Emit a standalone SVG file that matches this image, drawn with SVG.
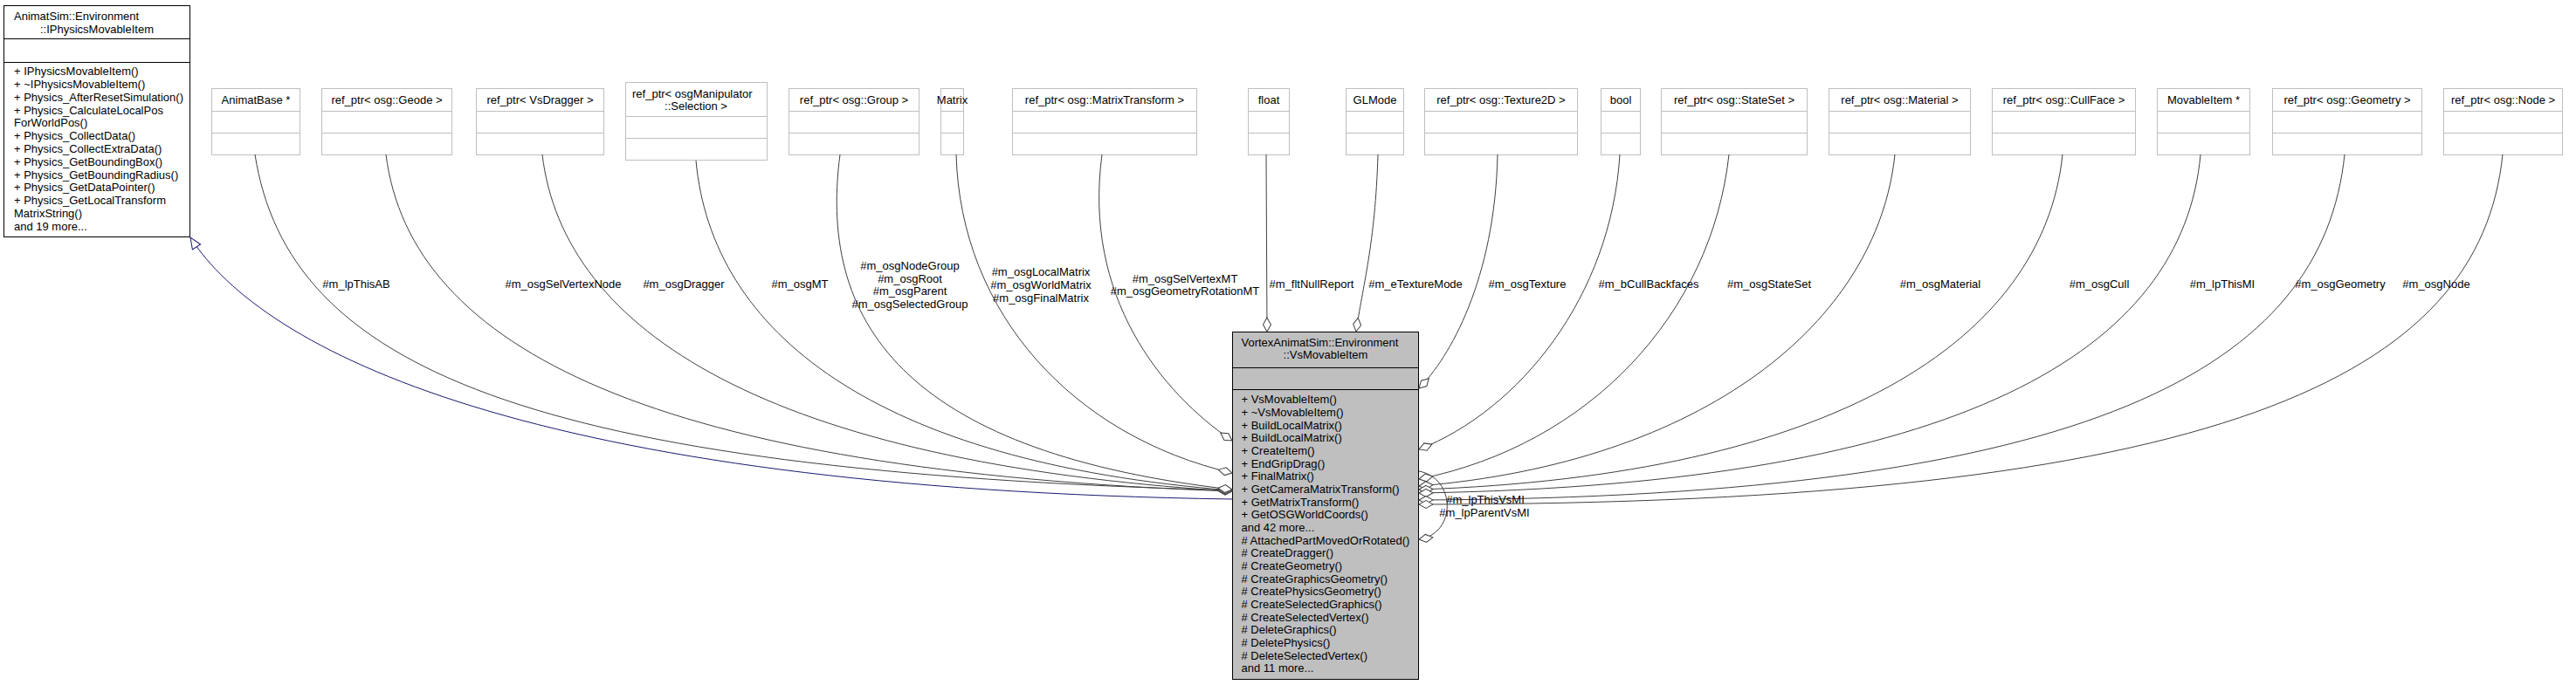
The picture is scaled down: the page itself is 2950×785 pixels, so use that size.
<svg xmlns="http://www.w3.org/2000/svg" width="2950" height="785" viewBox="0 0 2950 785">
<defs>
<style>
text{font-family:"Liberation Sans",Arial,sans-serif;font-size:13px;fill:#000}
.c{text-anchor:middle}
.box{fill:#fff;stroke:#bfbfbf;stroke-width:1}
.base{fill:#fff;stroke:#000;stroke-width:1}
.main{fill:#bfbfbf;stroke:#000;stroke-width:1}
.dv{stroke:#bfbfbf;stroke-width:1}
.dk{stroke:#000;stroke-width:1}
.e{fill:none;stroke:#404040;stroke-width:1;marker-end:url(#dia)}
.inh{fill:none;stroke:#191970;stroke-width:1;marker-end:url(#tri)}
</style>
<marker id="dia" viewBox="-1 -6 18 12" refX="16" refY="0" markerWidth="18" markerHeight="12" orient="auto" markerUnits="userSpaceOnUse"><path d="M0,0 L8,-4.5 L16,0 L8,4.5 Z" fill="#fff" stroke="#404040" stroke-width="1"/></marker>
<marker id="tri" viewBox="-1 -7 15 14" refX="13" refY="0" markerWidth="15" markerHeight="14" orient="auto" markerUnits="userSpaceOnUse"><path d="M0,-5.5 L13,0 L0,5.5 Z" fill="#fff" stroke="#191970" stroke-width="1"/></marker>
</defs>
<rect width="2950" height="785" fill="#fff"/>

<g id="IPhysicsMovableItem">
<rect class="base" x="4.5" y="6.5" width="213" height="265"/>
<line class="dk" x1="4.5" y1="44.5" x2="217.5" y2="44.5"/>
<line class="dk" x1="4.5" y1="71.5" x2="217.5" y2="71.5"/>
<text x="16" y="22.8">AnimatSim::Environment</text>
<text class="c" x="111" y="37.8">::IPhysicsMovableItem</text>
<text x="16" y="86.2">+ IPhysicsMovableItem()</text>
<text x="16" y="101">+ ~IPhysicsMovableItem()</text>
<text x="16" y="115.8">+ Physics_AfterResetSimulation()</text>
<text x="16" y="130.6">+ Physics_CalculateLocalPos</text>
<text x="16" y="145.4">ForWorldPos()</text>
<text x="16" y="160.2">+ Physics_CollectData()</text>
<text x="16" y="175">+ Physics_CollectExtraData()</text>
<text x="16" y="189.8">+ Physics_GetBoundingBox()</text>
<text x="16" y="204.6">+ Physics_GetBoundingRadius()</text>
<text x="16" y="219.4">+ Physics_GetDataPointer()</text>
<text x="16" y="234.2">+ Physics_GetLocalTransform</text>
<text x="16" y="249">MatrixString()</text>
<text x="16" y="263.8">and 19 more...</text>
</g>

<g id="AnimatBase">
<rect class="box" x="242.5" y="101.5" width="101" height="76"/>
<line class="dv" x1="242.5" y1="127.5" x2="343.5" y2="127.5"/><line class="dv" x1="242.5" y1="152.5" x2="343.5" y2="152.5"/>
<text class="c" x="293" y="118.5">AnimatBase *</text>
</g>
<g id="Geode">
<rect class="box" x="368.5" y="101.5" width="149" height="76"/>
<line class="dv" x1="368.5" y1="127.5" x2="517.5" y2="127.5"/><line class="dv" x1="368.5" y1="152.5" x2="517.5" y2="152.5"/>
<text class="c" x="443" y="118.5">ref_ptr&lt; osg::Geode &gt;</text>
</g>
<g id="VsDragger">
<rect class="box" x="545.5" y="101.5" width="146" height="76"/>
<line class="dv" x1="545.5" y1="127.5" x2="691.5" y2="127.5"/><line class="dv" x1="545.5" y1="152.5" x2="691.5" y2="152.5"/>
<text class="c" x="618.5" y="118.5">ref_ptr&lt; VsDragger &gt;</text>
</g>
<g id="Selection">
<rect class="box" x="716.5" y="94.5" width="162" height="89"/>
<line class="dv" x1="716.5" y1="133.5" x2="878.5" y2="133.5"/><line class="dv" x1="716.5" y1="158.5" x2="878.5" y2="158.5"/>
<text x="724" y="111.5">ref_ptr&lt; osgManipulator</text>
<text class="c" x="797" y="126">::Selection &gt;</text>
</g>
<g id="Group">
<rect class="box" x="903.5" y="101.5" width="149" height="76"/>
<line class="dv" x1="903.5" y1="127.5" x2="1052.5" y2="127.5"/><line class="dv" x1="903.5" y1="152.5" x2="1052.5" y2="152.5"/>
<text class="c" x="978" y="118.5">ref_ptr&lt; osg::Group &gt;</text>
</g>
<g id="Matrix">
<rect class="box" x="1077.5" y="101.5" width="26" height="76"/>
<line class="dv" x1="1077.5" y1="127.5" x2="1103.5" y2="127.5"/><line class="dv" x1="1077.5" y1="152.5" x2="1103.5" y2="152.5"/>
<text class="c" x="1090.5" y="118.5">Matrix</text>
</g>
<g id="MatrixTransform">
<rect class="box" x="1159.5" y="101.5" width="211" height="76"/>
<line class="dv" x1="1159.5" y1="127.5" x2="1370.5" y2="127.5"/><line class="dv" x1="1159.5" y1="152.5" x2="1370.5" y2="152.5"/>
<text class="c" x="1265" y="118.5">ref_ptr&lt; osg::MatrixTransform &gt;</text>
</g>
<g id="float">
<rect class="box" x="1429.5" y="101.5" width="47" height="76"/>
<line class="dv" x1="1429.5" y1="127.5" x2="1476.5" y2="127.5"/><line class="dv" x1="1429.5" y1="152.5" x2="1476.5" y2="152.5"/>
<text class="c" x="1453" y="118.5">float</text>
</g>
<g id="GLMode">
<rect class="box" x="1541.5" y="101.5" width="66" height="76"/>
<line class="dv" x1="1541.5" y1="127.5" x2="1607.5" y2="127.5"/><line class="dv" x1="1541.5" y1="152.5" x2="1607.5" y2="152.5"/>
<text class="c" x="1574.5" y="118.5">GLMode</text>
</g>
<g id="Texture2D">
<rect class="box" x="1631.5" y="101.5" width="175" height="76"/>
<line class="dv" x1="1631.5" y1="127.5" x2="1806.5" y2="127.5"/><line class="dv" x1="1631.5" y1="152.5" x2="1806.5" y2="152.5"/>
<text class="c" x="1719" y="118.5">ref_ptr&lt; osg::Texture2D &gt;</text>
</g>
<g id="bool">
<rect class="box" x="1833.5" y="101.5" width="45" height="76"/>
<line class="dv" x1="1833.5" y1="127.5" x2="1878.5" y2="127.5"/><line class="dv" x1="1833.5" y1="152.5" x2="1878.5" y2="152.5"/>
<text class="c" x="1856" y="118.5">bool</text>
</g>
<g id="StateSet">
<rect class="box" x="1902.5" y="101.5" width="167" height="76"/>
<line class="dv" x1="1902.5" y1="127.5" x2="2069.5" y2="127.5"/><line class="dv" x1="1902.5" y1="152.5" x2="2069.5" y2="152.5"/>
<text class="c" x="1986" y="118.5">ref_ptr&lt; osg::StateSet &gt;</text>
</g>
<g id="Material">
<rect class="box" x="2094.5" y="101.5" width="162" height="76"/>
<line class="dv" x1="2094.5" y1="127.5" x2="2256.5" y2="127.5"/><line class="dv" x1="2094.5" y1="152.5" x2="2256.5" y2="152.5"/>
<text class="c" x="2175.5" y="118.5">ref_ptr&lt; osg::Material &gt;</text>
</g>
<g id="CullFace">
<rect class="box" x="2281.5" y="101.5" width="164" height="76"/>
<line class="dv" x1="2281.5" y1="127.5" x2="2445.5" y2="127.5"/><line class="dv" x1="2281.5" y1="152.5" x2="2445.5" y2="152.5"/>
<text class="c" x="2363.5" y="118.5">ref_ptr&lt; osg::CullFace &gt;</text>
</g>
<g id="MovableItem">
<rect class="box" x="2470.5" y="101.5" width="106" height="76"/>
<line class="dv" x1="2470.5" y1="127.5" x2="2576.5" y2="127.5"/><line class="dv" x1="2470.5" y1="152.5" x2="2576.5" y2="152.5"/>
<text class="c" x="2523.5" y="118.5">MovableItem *</text>
</g>
<g id="Geometry">
<rect class="box" x="2602.5" y="101.5" width="171" height="76"/>
<line class="dv" x1="2602.5" y1="127.5" x2="2773.5" y2="127.5"/><line class="dv" x1="2602.5" y1="152.5" x2="2773.5" y2="152.5"/>
<text class="c" x="2688" y="118.5">ref_ptr&lt; osg::Geometry &gt;</text>
</g>
<g id="Node">
<rect class="box" x="2798.5" y="101.5" width="136" height="76"/>
<line class="dv" x1="2798.5" y1="127.5" x2="2934.5" y2="127.5"/><line class="dv" x1="2798.5" y1="152.5" x2="2934.5" y2="152.5"/>
<text class="c" x="2866.5" y="118.5">ref_ptr&lt; osg::Node &gt;</text>
</g>

<g id="VsMovableItem">
<rect class="main" x="1411.5" y="380.5" width="213" height="398"/>
<line class="dk" x1="1411.5" y1="421.5" x2="1624.5" y2="421.5"/>
<line class="dk" x1="1411.5" y1="446.5" x2="1624.5" y2="446.5"/>
<text x="1421.5" y="396.5">VortexAnimatSim::Environment</text>
<text class="c" x="1518" y="411">::VsMovableItem</text>
<text x="1421.5" y="462.2">+ VsMovableItem()</text>
<text x="1421.5" y="476.9">+ ~VsMovableItem()</text>
<text x="1421.5" y="491.5">+ BuildLocalMatrix()</text>
<text x="1421.5" y="506.2">+ BuildLocalMatrix()</text>
<text x="1421.5" y="520.9">+ CreateItem()</text>
<text x="1421.5" y="535.6">+ EndGripDrag()</text>
<text x="1421.5" y="550.2">+ FinalMatrix()</text>
<text x="1421.5" y="564.9">+ GetCameraMatrixTransform()</text>
<text x="1421.5" y="579.6">+ GetMatrixTransform()</text>
<text x="1421.5" y="594.2">+ GetOSGWorldCoords()</text>
<text x="1421.5" y="608.9">and 42 more...</text>
<text x="1421.5" y="623.6">#  AttachedPartMovedOrRotated()</text>
<text x="1421.5" y="638.2">#  CreateDragger()</text>
<text x="1421.5" y="652.9">#  CreateGeometry()</text>
<text x="1421.5" y="667.6">#  CreateGraphicsGeometry()</text>
<text x="1421.5" y="682.3">#  CreatePhysicsGeometry()</text>
<text x="1421.5" y="696.9">#  CreateSelectedGraphics()</text>
<text x="1421.5" y="711.6">#  CreateSelectedVertex()</text>
<text x="1421.5" y="726.3">#  DeleteGraphics()</text>
<text x="1421.5" y="740.9">#  DeletePhysics()</text>
<text x="1421.5" y="755.6">#  DeleteSelectedVertex()</text>
<text x="1421.5" y="770.3">and 11 more...</text>
</g>

<g id="connectors">
<path class="inh" d="M1411,572 C600,560 300,400 218,272"/>
<path class="e" d="M292,177 C330,420 600,540 1411,562"/>
<path class="e" d="M442,177 C470,400 750,540 1411,563"/>
<path class="e" d="M621,177 C645,380 880,530 1411,563"/>
<path class="e" d="M797,184 C815,380 1000,530 1411,562"/>
<path class="e" d="M962,177 C935,380 1050,520 1411,561"/>
<path class="e" d="M1095,177 C1100,360 1230,500 1411,542"/>
<path class="e" d="M1262,177 C1240,340 1330,450 1411,505"/>
<path class="e" d="M1450,177 L1451,380"/>
<path class="e" d="M1578,177 C1575,280 1560,330 1553,380"/>
<path class="e" d="M1715,177 C1712,320 1660,410 1625,445"/>
<path class="e" d="M1855,177 C1845,340 1740,470 1625,515"/>
<path class="e" d="M1980,177 C1960,360 1820,510 1625,549"/>
<path class="e" d="M2170,177 C2150,370 1950,530 1625,557"/>
<path class="e" d="M2362,177 C2340,390 2100,545 1625,561"/>
<path class="e" d="M2520,177 C2500,400 2250,555 1625,565"/>
<path class="e" d="M2685,177 C2660,420 2400,570 1625,573"/>
<path class="e" d="M2866,177 C2840,430 2550,578 1625,578"/>
<path class="e" d="M1625,540 C1668,548 1668,612 1625,618"/>
<text class="c" x="408" y="329.5">#m_lpThisAB</text>
<text class="c" x="645" y="329.5">#m_osgSelVertexNode</text>
<text class="c" x="783" y="329.5">#m_osgDragger</text>
<text class="c" x="916" y="329.5">#m_osgMT</text>
<text class="c" x="1042" y="308.8">#m_osgNodeGroup</text>
<text class="c" x="1042" y="323.5">#m_osgRoot</text>
<text class="c" x="1042" y="338.2">#m_osgParent</text>
<text class="c" x="1042" y="352.8">#m_osgSelectedGroup</text>
<text class="c" x="1192" y="316.2">#m_osgLocalMatrix</text>
<text class="c" x="1192" y="330.9">#m_osgWorldMatrix</text>
<text class="c" x="1192" y="345.5">#m_osgFinalMatrix</text>
<text class="c" x="1357" y="323.5">#m_osgSelVertexMT</text>
<text class="c" x="1357" y="338.2">#m_osgGeometryRotationMT</text>
<text class="c" x="1502" y="329.5">#m_fltNullReport</text>
<text class="c" x="1621" y="329.5">#m_eTextureMode</text>
<text class="c" x="1749" y="329.5">#m_osgTexture</text>
<text class="c" x="1888" y="329.5">#m_bCullBackfaces</text>
<text class="c" x="2026" y="329.5">#m_osgStateSet</text>
<text class="c" x="2222" y="329.5">#m_osgMaterial</text>
<text class="c" x="2404" y="329.5">#m_osgCull</text>
<text class="c" x="2545" y="329.5">#m_lpThisMI</text>
<text class="c" x="2680" y="329.5">#m_osgGeometry</text>
<text class="c" x="2790" y="329.5">#m_osgNode</text>
<text class="c" x="1701" y="576.5">#m_lpThisVsMI</text>
<text class="c" x="1700" y="591.5">#m_lpParentVsMI</text>
</g>
</svg>
